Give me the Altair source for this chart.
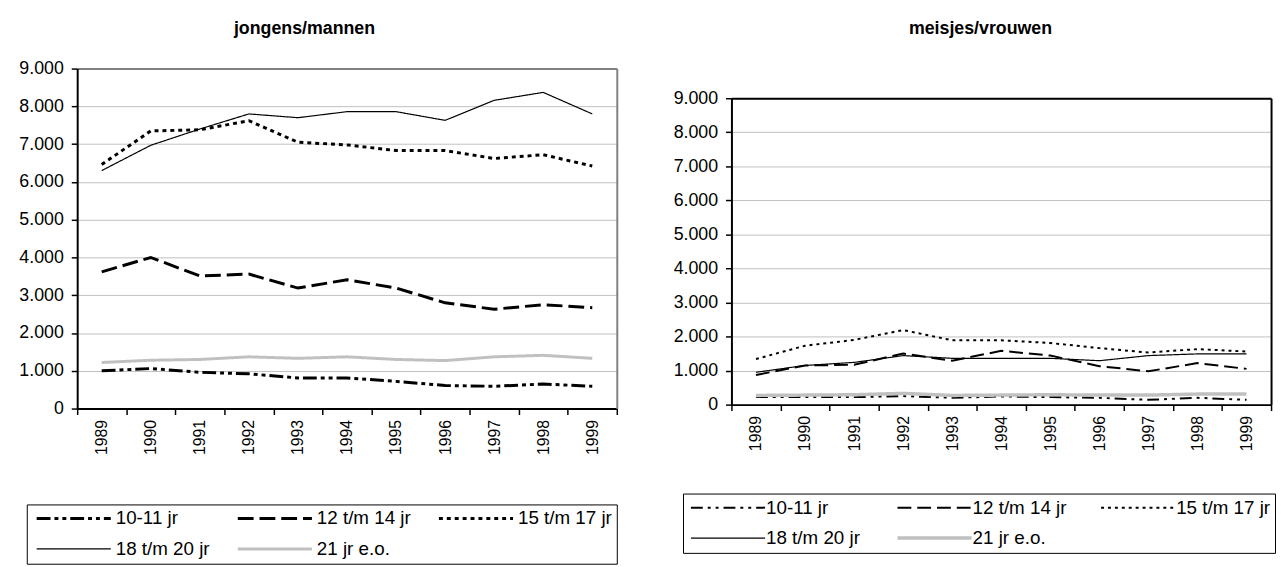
import altair as alt
import pandas as pd

years = [str(y) for y in range(1989, 2000)]
series = ["10-11 jr", "12 t/m 14 jr", "15 t/m 17 jr", "18 t/m 20 jr", "21 jr e.o."]

# jongens/mannen
boys_10_11 = [1000, 1060, 960, 920, 810, 810, 720, 610, 590, 650, 590]
boys_12_14 = [3620, 4000, 3510, 3560, 3190, 3410, 3190, 2800, 2630, 2750, 2670]
boys_15_17 = [6460, 7350, 7380, 7620, 7050, 6980, 6830, 6830, 6620, 6720, 6420]
boys_18_20 = [6300, 6970, 7400, 7800, 7700, 7860, 7860, 7630, 8160, 8370, 7800]
boys_21 = [1220, 1280, 1300, 1370, 1330, 1370, 1300, 1270, 1370, 1410, 1330]

# meisjes/vrouwen
girls_10_11 = [220, 220, 220, 250, 200, 240, 220, 200, 140, 200, 140]
girls_12_14 = [870, 1150, 1170, 1500, 1290, 1580, 1440, 1130, 980, 1220, 1050]
girls_15_17 = [1340, 1730, 1900, 2190, 1890, 1890, 1810, 1660, 1530, 1630, 1560]
girls_18_20 = [950, 1150, 1240, 1440, 1360, 1360, 1360, 1290, 1440, 1490, 1490]
girls_21 = [270, 280, 290, 330, 270, 280, 290, 280, 280, 310, 310]

FONT = "Liberation Sans"
colors = ["black", "black", "black", "black", "#c0c0c0"]
VIEW_H = 344


def long_df(cols):
    rows = []
    for s, vals in zip(series, cols):
        for y, v in zip(years, vals):
            rows.append({"jaar": y, "groep": s, "aantal": v})
    return pd.DataFrame(rows)


def panel(df, title, y_top, y_bottom, title_offset, title_dx, dashes, widths,
          legend_x, legend_y, col_pad, sym_offset, lab_offset, frame):
    xscale = alt.Scale(type="band", paddingInner=0, paddingOuter=0)
    yscale = alt.Scale(domain=[0, 9000], nice=False, range=[y_bottom, y_top])
    base = alt.Chart(df).mark_line().encode(
        x=alt.X("jaar:O", scale=xscale,
                axis=alt.Axis(title=None, labelAngle=270, tickBand="extent",
                              orient="bottom", offset=-(VIEW_H - y_bottom),
                              labelFontSize=16, labelFont=FONT, labelColor="black",
                              tickColor="black", tickSize=6, tickWidth=1.5,
                              domainColor="black", domainWidth=2, labelPadding=5,
                              grid=False)),
        y=alt.Y("aantal:Q", scale=yscale,
                axis=alt.Axis(title=None, values=list(range(0, 9001, 1000)),
                              labelExpr="replace(format(datum.value, ','), ',', '.')",
                              labelFontSize=18, labelFont=FONT, labelColor="black",
                              tickColor="black", tickSize=6, tickWidth=1.5,
                              domainColor="black", domainWidth=2, labelPadding=8,
                              grid=True, gridColor="#c0c0c0", gridWidth=1)),
        color=alt.Color("groep:N",
                        scale=alt.Scale(domain=series, range=colors),
                        legend=alt.Legend(title=None, orient="none",
                                          legendX=legend_x, legendY=legend_y,
                                          direction="horizontal", columns=3,
                                          symbolType="M-5,0H5", symbolSize=225,
                                          symbolOffset=sym_offset,
                                          labelFontSize=19, labelFont=FONT,
                                          labelColor="black", labelOffset=lab_offset,
                                          strokeColor="black",
                                          padding=4.5,
                                          rowPadding=11, columnPadding=col_pad,
                                          labelLimit=300)),
        strokeDash=alt.StrokeDash("groep:N", scale=alt.Scale(domain=series, range=dashes)),
        strokeWidth=alt.StrokeWidth("groep:N",
                                    scale=alt.Scale(type="ordinal", domain=series, range=widths)),
    )
    # invisible copy of the lines that only carries the top and right frame axes
    border = alt.Chart(df).mark_line(opacity=0).encode(
        x=alt.X("jaar:O", scale=xscale,
                axis=alt.Axis(title=None, orient="top", offset=-y_top,
                              labels=False, ticks=False, grid=False,
                              domainColor=frame, domainWidth=2)),
        y=alt.Y("aantal:Q", scale=yscale,
                axis=alt.Axis(title=None, orient="right", labels=False,
                              ticks=False, grid=False,
                              domainColor=frame, domainWidth=2)),
        detail="groep:N",
    )
    return alt.layer(border, base).resolve_axis(x="independent", y="independent").properties(
        width=546,
        height=VIEW_H,
        view=alt.ViewBackground(stroke=None),
        title=alt.TitleParams(title, offset=title_offset, dx=title_dx, fontSize=18,
                              fontWeight="bold", font=FONT, anchor="middle",
                              color="black"),
    )


left = panel(long_df([boys_10_11, boys_12_14, boys_15_17, boys_18_20, boys_21]),
             "jongens/mannen", 0, 344, 22, -43,
             [[14, 4, 4, 4, 4, 4], [16, 6], [4, 4], [1, 0], [1, 0]],
             [3, 3, 3, 1.2, 3], -51, 441, 21.5, 33.5, 33, "#808080")

right = panel(long_df([girls_10_11, girls_12_14, girls_15_17, girls_18_20, girls_21]),
              "meisjes/vrouwen", 30, 340, 31, -21,
              [[12, 5, 3, 5, 3, 5], [14, 6], [3, 4], [1, 0], [1, 0]],
              [2, 2, 2, 1.2, 3.5], -49, 430, 30, 31.5, 29, "black")

chart = alt.concat(left, right, columns=2, spacing=55).resolve_scale(
    color="independent", strokeDash="independent", strokeWidth="independent"
).properties(
    padding={"left": 10, "top": 9, "right": 0, "bottom": 0},
    background="white",
)

chart.save("out.html", embed_options={"renderer": "svg", "actions": False})
